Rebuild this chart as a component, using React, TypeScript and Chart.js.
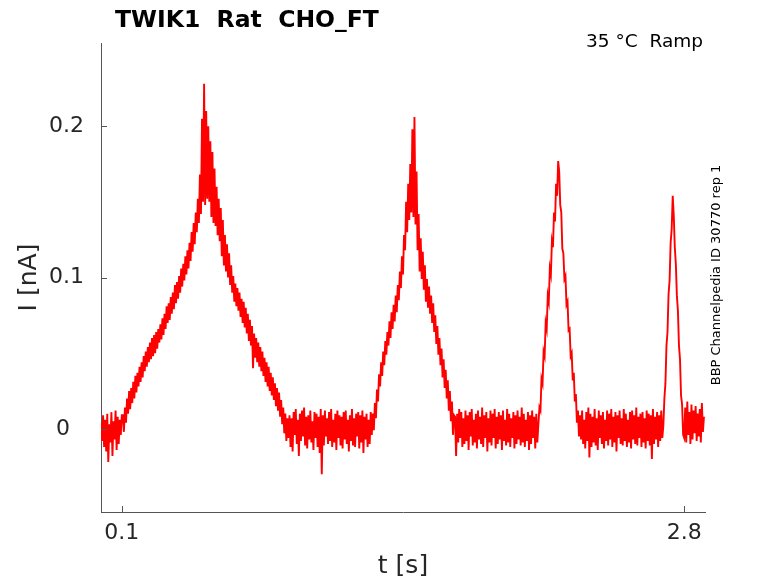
import { useEffect, useRef } from "react";
import { Chart, registerables } from "chart.js";

Chart.register(...registerables);

// sampling of the recording (s) and where each stretch starts
const SAMPLE_STEP = 0.005;

// current in pA
const baseline0 = [4, -8, 9, -12, 6, -15, 10, -22, 3, -9, 11, -18, 5, -7, 12, -14, 8, -10, 6, -4, 9];

const ramp800 = [
  9, -2, 14, 4, 20, 10, 25, 13, 27, 17,
  31, 20, 35, 24, 37, 28, 41, 31, 44, 34,
  48, 38, 51, 41, 54, 44, 57, 46, 60, 48,
  62, 50, 64, 53, 66, 57, 69, 59, 73, 62,
  76, 66, 81, 70, 83, 72, 87, 76, 90, 79,
  95, 83, 97, 86, 101, 90, 106, 94, 109, 98,
  114, 102, 118, 106, 123, 111, 130, 117, 136, 122,
  143, 130, 152, 136, 168, 142, 205, 150, 228, 148,
  210, 152, 200, 150, 190, 140, 183, 136, 172, 134,
  160, 128, 152, 124, 146, 114, 138, 108, 128, 104,
  122, 100, 116, 95, 108, 90, 101, 84, 96, 81,
  93, 78, 90, 74, 86, 70, 84, 67, 80, 63,
  76, 58, 72, 55, 68, 40, 63, 47, 60, 44,
  57, 41, 54, 38, 51, 35, 47, 31, 44, 28,
  41, 25, 37, 22, 34, 19, 30, 15, 27, 12,
  24, 8, 19, 3, 14, -3, 10, -8, 7,
];

const baseline1 = [
  -6, 9, -12, 7, -15, 11, -4, 13, -10, 6,
  -18, 10, -8, 12, -5, 14, -11, 8, -13, 9,
  -7, 12, -9, 5, -14, 11, -6, 10, -12, 8,
  -16, 13, -30, 9, -11, 12, -5, 7, -10, 11,
  -8, 13, -12, 6, -9, 10, -14, 12, -6, 9,
  -11, 8, -13, 11, -7, 12, -10, 6, -15, 9,
  -8, 13, -11, 7, -12, 10, -5, 11, -13, 9,
  -9, 12, -16, 8, -7, 10, -12, 6, -10, 11,
  -4,
];

const ramp400 = [
  10, -1, 17, 7, 26, 18, 36, 28, 44, 35,
  51, 42, 58, 49, 64, 55, 71, 60, 77, 66,
  82, 71, 88, 77, 95, 85, 104, 93, 114, 102,
  128, 118, 150, 130, 162, 138, 175, 143, 198, 140,
  206, 135, 170, 118, 142, 104, 126, 99, 117, 92,
  108, 84, 99, 80, 94, 76, 88, 70, 83, 64,
  75, 56, 68, 49, 60, 42, 53, 34, 46, 27,
  39, 20, 32, 12, 25, 5, 18, -4, 9,
];

const baseline2 = [
  8, -18, 10, -9, 13, -6, 11, -12, 7, -10,
  12, -8, 9, -14, 11, -5, 13, -11, 6, -9,
  10, -13, 12, -7, 8, -10, 14, -12, 9, -6,
  11, -15, 7, -9, 12, -11, 10, -6, 13, -13,
  8, -10, 11, -7, 9, -14, 12, -8, 6, -11,
  13, -9, 10, -12, 7, -6, 11, -13, 9, -10,
  12, -7, 8, -11, 14, -9, 10, -12, 6, -8,
  11, -14, 9, -10, 12, -6, 8, -13, 10, -9,
  3,
];

const ramp200 = [
  14, 12, 33, 30, 51, 48, 70, 66, 88, 84,
  106, 102, 124, 120, 143, 137, 162, 154, 177,
  170, 148, 143, 119, 116, 99, 101, 82, 84, 65,
  66, 48, 50, 32, 37, 18, 23, 4, 12, -5,
];

const baseline3 = [
  9, -7, 12, -10, 6, -13, 11, -8, 14, -19,
  10, -12, 8, -9, 13, -11, 7, -14, 12, -6,
  9, -10, 11, -13, 6, -8, 12, -11, 10, -7,
  13, -12, 8, -9, 11, -15, 9, -6, 12, -10,
  7, -11, 13, -8, 10, -12, 6, -9, 11, -13,
  12, -7, 9, -10, 14, -11, 8, -6, 10, -12,
  11, -9, 7, -13, 12, -8, 10, -11, 9, -20,
  13, -10, 8, -7, 11, -12, 9, -8, 12, -6,
  2,
];

const ramp100 = [20, 30, 55, 64, 89, 98, 123, 132, 154, 141, 120, 109, 88, 78, 55, 46, 22, 16, -4];

const baseline4 = [-6, 14, -9, 18, -4, 11, -10, 16, -7, 12, -3, 15, -8, 10, -5, 13, -9, 17, -2, 8];

const segmentStarts = [0, 0.105, 0.9, 1.305, 1.7, 2.105, 2.3, 2.705, 2.8];
const segmentValues = [baseline0, ramp800, baseline1, ramp400, baseline2, ramp200, baseline3, ramp100, baseline4];

const xTicks = [0.1, 2.8];
const yTicks = [0, 0.1, 0.2];
// MATLAB lines the y labels up as if every label had one decimal
const yTickLabels = ["0  ", "0.1", "0.2"];

const chartTitle = "TWIK1  Rat  CHO_FT";
const conditionText = "35 °C  Ramp";
const sourceText = "BBP Channelpedia ID 30770 rep 1";

const FONT = "'DejaVu Sans', sans-serif";
const TEXT_COLOR = "#262626";
const AXIS_COLOR = "#555555";

const textPlugin = {
  id: "textAndTicks",
  afterDraw(chart: any) {
    const { ctx, chartArea, scales } = chart;
    const xs = scales.x;
    const ys = scales.y;
    ctx.save();

    // tick marks point inward
    ctx.strokeStyle = AXIS_COLOR;
    ctx.lineWidth = 1;
    ctx.beginPath();
    for (const v of yTicks) {
      const py = Math.round(ys.getPixelForValue(v)) + 0.5;
      ctx.moveTo(chartArea.left, py);
      ctx.lineTo(chartArea.left + 6, py);
    }
    for (const v of xTicks) {
      const px = Math.round(xs.getPixelForValue(v)) + 0.5;
      ctx.moveTo(px, chartArea.bottom);
      ctx.lineTo(px, chartArea.bottom - 6);
    }
    ctx.stroke();

    ctx.fillStyle = "#000";
    ctx.textBaseline = "alphabetic";
    ctx.textAlign = "left";
    ctx.font = `bold 23.5px ${FONT}`;
    ctx.fillText(chartTitle, chartArea.left + 14, 26.7);

    ctx.textAlign = "right";
    ctx.font = `18.5px ${FONT}`;
    ctx.fillText(conditionText, chartArea.right - 2, 46.7);

    ctx.translate(chartArea.right + 12, 275);
    ctx.rotate(-Math.PI / 2);
    ctx.textAlign = "center";
    ctx.textBaseline = "middle";
    ctx.font = `13px ${FONT}`;
    ctx.fillText(sourceText, 0, 0);
    ctx.restore();
  },
};

export default function App() {
  const canvasRef = useRef<HTMLCanvasElement>(null);

  useEffect(() => {
    if (!canvasRef.current) return;

    const points = segmentValues.flatMap((values, s) =>
      values.map((pA, i) => ({ x: segmentStarts[s] + i * SAMPLE_STEP, y: pA / 1000 }))
    );

    const chart = new Chart(canvasRef.current, {
      type: "line",
      data: {
        datasets: [
          {
            data: points,
            borderColor: "#ff0000",
            borderWidth: 1.9,
            pointRadius: 0,
            tension: 0,
            fill: false,
          },
        ],
      },
      options: {
        animation: false,
        responsive: true,
        maintainAspectRatio: false,
        parsing: false,
        layout: { padding: { left: 0, right: 73, top: 43, bottom: 0 } },
        plugins: {
          legend: { display: false },
          tooltip: { enabled: false },
        },
        scales: {
          x: {
            type: "linear",
            min: 0,
            max: 2.9,
            grid: { display: false, drawTicks: false },
            border: { display: true, color: AXIS_COLOR, width: 1 },
            ticks: {
              color: TEXT_COLOR,
              font: { family: FONT, size: 22 },
              padding: 8,
              autoSkip: false,
              maxRotation: 0,
              callback: (v: any) => String(v),
            },
            afterBuildTicks: (s: any) => {
              s.ticks = xTicks.map((value) => ({ value }));
            },
            afterFit: (s: any) => {
              s.height = 71;
            },
            title: {
              display: true,
              text: "t [s]",
              color: TEXT_COLOR,
              font: { family: FONT, size: 25 },
              padding: { top: 0, bottom: 2 },
            },
          },
          y: {
            type: "linear",
            min: -0.055,
            max: 0.255,
            grid: { display: false, drawTicks: false },
            border: { display: true, color: AXIS_COLOR, width: 1 },
            ticks: {
              color: TEXT_COLOR,
              font: { family: FONT, size: 22 },
              padding: 17,
              autoSkip: false,
              callback: (_v: any, i: number) => yTickLabels[i],
            },
            afterBuildTicks: (s: any) => {
              s.ticks = yTicks.map((value) => ({ value }));
            },
            afterFit: (s: any) => {
              s.width = 101;
            },
            title: {
              display: true,
              text: "I [nA]",
              color: TEXT_COLOR,
              font: { family: FONT, size: 25 },
              padding: { top: 14, bottom: 0 },
            },
          },
        },
      },
      plugins: [textPlugin],
    });

    return () => {
      chart.destroy();
    };
  }, []);

  return (
    <div style={{ position: "absolute", left: 0, top: 0, width: 778, height: 583, background: "#fff" }}>
      <canvas ref={canvasRef}></canvas>
    </div>
  );
}
